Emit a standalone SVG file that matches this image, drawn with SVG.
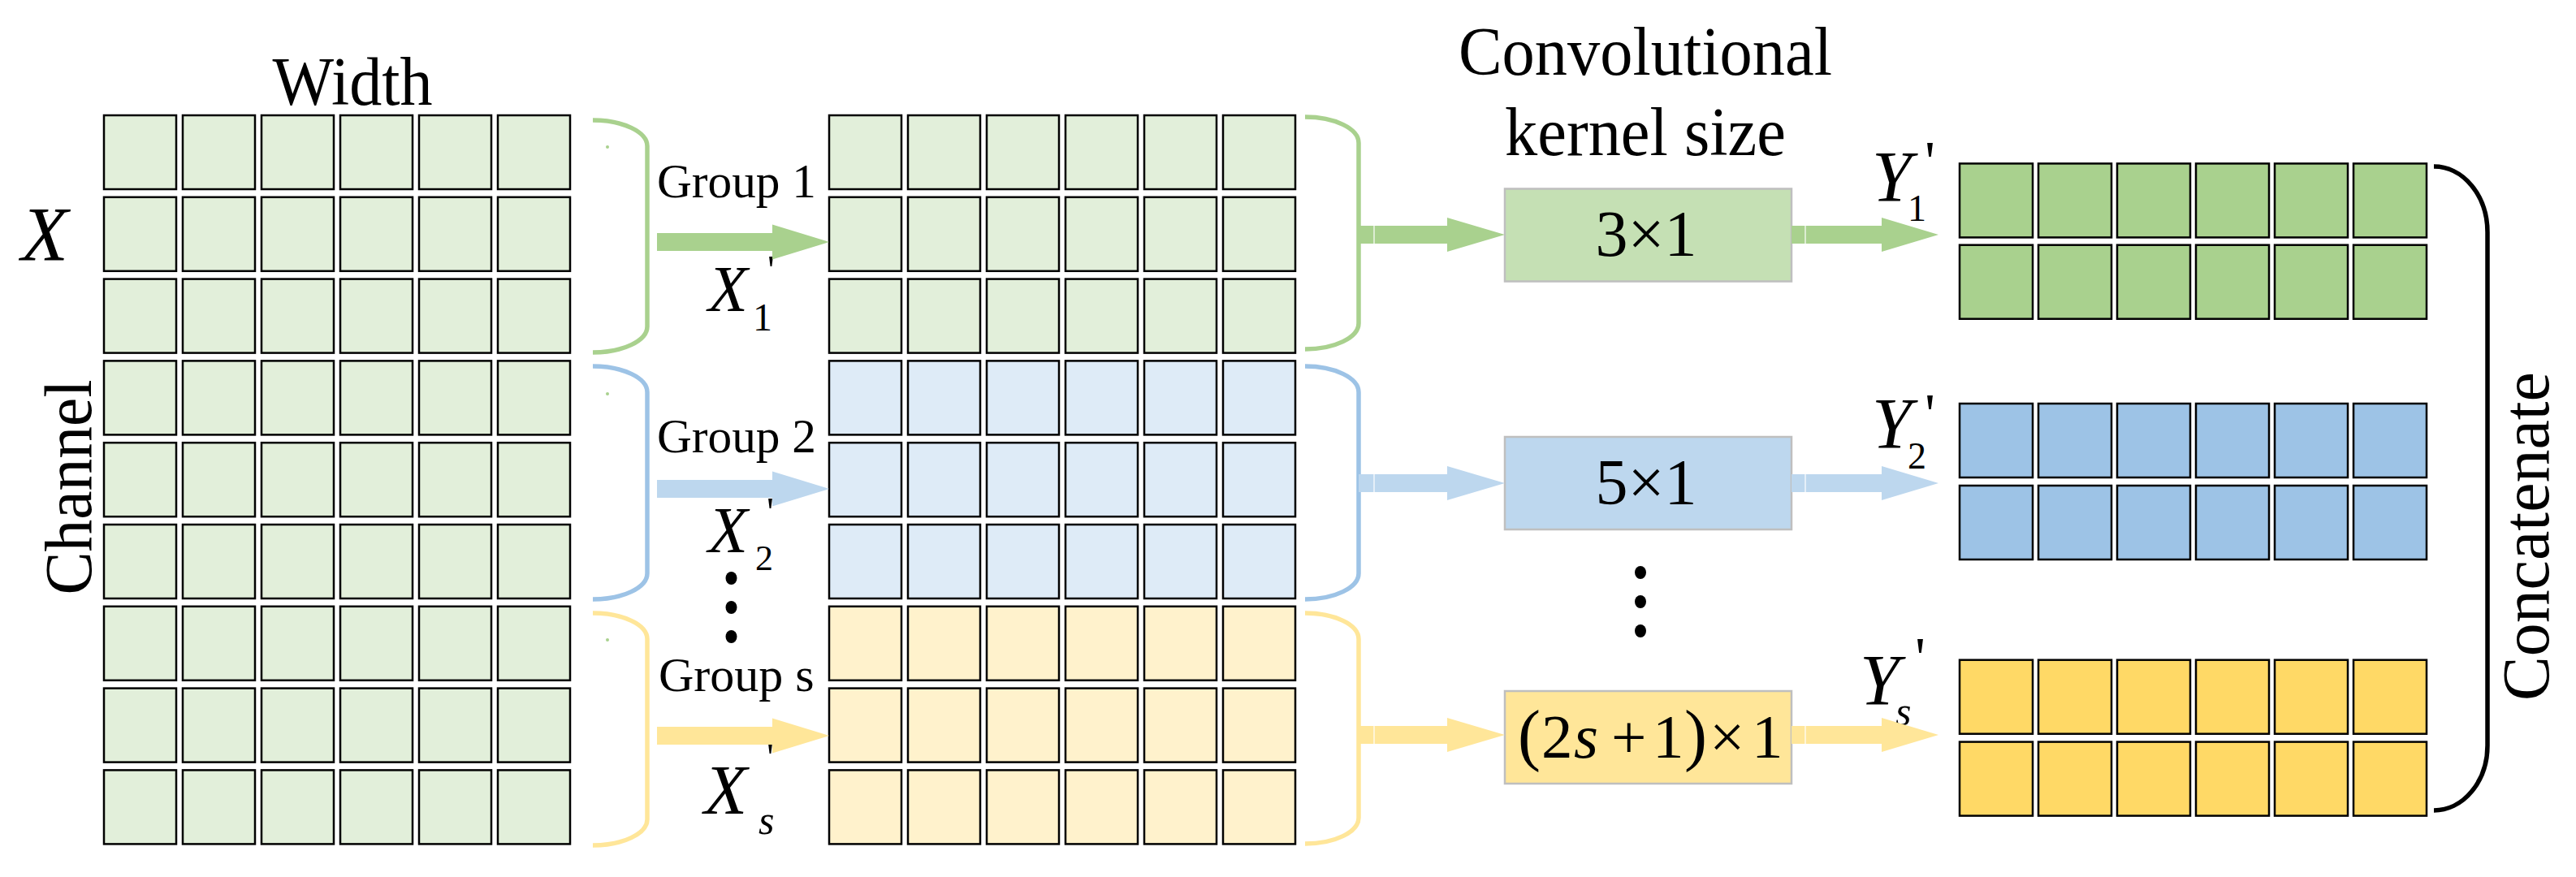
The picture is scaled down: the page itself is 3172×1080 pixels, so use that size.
<svg xmlns="http://www.w3.org/2000/svg" width="3172" height="1080" viewBox="0 0 3172 1080">
<style>
  text { font-family: "Liberation Serif", "Times New Roman", serif; fill: #000; }
  .it { font-style: italic; }
  .up { font-style: normal; }
  .cell { stroke: #000; stroke-width: 2.5; }
  .kbox { stroke: #bfbfbf; stroke-width: 2.5; }
  .br { fill: none; stroke-width: 5.5; }
  .dot { fill: #000; }
  .seam { stroke: #ffffff; stroke-width: 1.5; stroke-opacity: 0.8; }
</style>
<defs>
  <g id="row">
    <rect class="cell" x="0" y="0" width="89" height="91"/>
    <rect class="cell" x="97" y="0" width="89" height="91"/>
    <rect class="cell" x="194" y="0" width="89" height="91"/>
    <rect class="cell" x="291" y="0" width="89" height="91"/>
    <rect class="cell" x="388" y="0" width="89" height="91"/>
    <rect class="cell" x="485" y="0" width="89" height="91"/>
  </g>
  <g id="rowR">
    <rect class="cell" x="0" y="0" width="90" height="91"/>
    <rect class="cell" x="97" y="0" width="90" height="91"/>
    <rect class="cell" x="194" y="0" width="90" height="91"/>
    <rect class="cell" x="291" y="0" width="90" height="91"/>
    <rect class="cell" x="388" y="0" width="90" height="91"/>
    <rect class="cell" x="485" y="0" width="90" height="91"/>
  </g>
</defs>
<rect width="3172" height="1080" fill="#ffffff"/>

<g id="input-X">
  <text x="434" y="129" font-size="84" text-anchor="middle" textLength="197" lengthAdjust="spacingAndGlyphs">Width</text>
  <text transform="translate(112,600) rotate(-90)" font-size="83" text-anchor="middle" textLength="265" lengthAdjust="spacingAndGlyphs">Channel</text>
  <text class="it" x="26" y="321" font-size="95">X</text>
  <use href="#row" x="128" y="142" fill="#e2efda"/>
  <use href="#row" x="128" y="242.8" fill="#e2efda"/>
  <use href="#row" x="128" y="343.6" fill="#e2efda"/>
  <use href="#row" x="128" y="444.4" fill="#e2efda"/>
  <use href="#row" x="128" y="545.2" fill="#e2efda"/>
  <use href="#row" x="128" y="646" fill="#e2efda"/>
  <use href="#row" x="128" y="746.8" fill="#e2efda"/>
  <use href="#row" x="128" y="847.6" fill="#e2efda"/>
  <use href="#row" x="128" y="948.4" fill="#e2efda"/>
  <circle cx="748" cy="181" r="2" fill="#a9d18e"/>
  <circle cx="748" cy="485" r="2" fill="#a9d18e"/>
  <circle cx="748" cy="788" r="2" fill="#a9d18e"/>
</g>

<g id="split-brackets">
  <path class="br" stroke="#a9d18e" d="M730,148 A67,32 0 0 1 797,180 L797,402 A67,32 0 0 1 730,434"/>
  <path class="br" stroke="#9dc3e6" d="M730,451 A67,32 0 0 1 797,483 L797,706 A67,32 0 0 1 730,738"/>
  <path class="br" stroke="#ffe699" d="M730,755 A67,32 0 0 1 797,787 L797,1009 A67,32 0 0 1 730,1041"/>
</g>

<g id="group-labels">
  <text x="809" y="243" font-size="60" textLength="196" lengthAdjust="spacingAndGlyphs">Group 1</text>
  <text x="809" y="557" font-size="60" textLength="196" lengthAdjust="spacingAndGlyphs">Group 2</text>
  <text x="811" y="851" font-size="60">Group s</text>
  <text x="872" y="383" font-size="80"><tspan class="it">X</tspan><tspan class="up" x="945" y="349" font-size="50">'</tspan><tspan class="up" x="927" y="407" font-size="48">1</tspan></text>
  <text x="872" y="680" font-size="80"><tspan class="it">X</tspan><tspan class="up" x="944" y="647" font-size="50">'</tspan><tspan class="up" x="930" y="702" font-size="44">2</tspan></text>
  <text x="867" y="1002" font-size="87"><tspan class="it">X</tspan><tspan class="up" x="944" y="949" font-size="50">'</tspan><tspan class="it" x="934" y="1027" font-size="50">s</tspan></text>
  <ellipse class="dot" cx="900.5" cy="712" rx="7" ry="8"/>
  <ellipse class="dot" cx="900.5" cy="748" rx="7" ry="8"/>
  <ellipse class="dot" cx="900.5" cy="784" rx="7" ry="8"/>
</g>

<g id="groups-Xprime">
  <use href="#row" x="1021" y="142" fill="#e2efda"/>
  <use href="#row" x="1021" y="242.8" fill="#e2efda"/>
  <use href="#row" x="1021" y="343.6" fill="#e2efda"/>
  <use href="#row" x="1021" y="444.4" fill="#deebf7"/>
  <use href="#row" x="1021" y="545.2" fill="#deebf7"/>
  <use href="#row" x="1021" y="646" fill="#deebf7"/>
  <use href="#row" x="1021" y="746.8" fill="#fff2cc"/>
  <use href="#row" x="1021" y="847.6" fill="#fff2cc"/>
  <use href="#row" x="1021" y="948.4" fill="#fff2cc"/>
  <path class="br" stroke="#a9d18e" d="M1607,144 A66,32 0 0 1 1673,176 L1673,398 A66,32 0 0 1 1607,430"/>
  <path class="br" stroke="#9dc3e6" d="M1607,451 A66,32 0 0 1 1673,483 L1673,706 A66,32 0 0 1 1607,738"/>
  <path class="br" stroke="#ffe699" d="M1607,755 A66,32 0 0 1 1673,787 L1673,1007 A66,32 0 0 1 1607,1039"/>
</g>

<g id="kernel-title">
  <text x="2026" y="92" font-size="84" text-anchor="middle" textLength="460" lengthAdjust="spacingAndGlyphs">Convolutional</text>
  <text x="2026" y="191" font-size="84" text-anchor="middle" textLength="346" lengthAdjust="spacingAndGlyphs">kernel size</text>
</g>

<g id="kernel-3x1">
  <rect class="kbox" x="1853" y="232.5" width="353" height="114" fill="#c5e0b4"/>
  <text x="2027" y="315" font-size="80" text-anchor="middle">3×1</text>
</g>
<g id="kernel-5x1">
  <rect class="kbox" x="1853" y="538" width="353" height="114" fill="#bdd7ee"/>
  <text x="2027" y="621" font-size="80" text-anchor="middle">5×1</text>
</g>
<g id="kernel-dots">
  <ellipse class="dot" cx="2020" cy="705" rx="7" ry="8"/>
  <ellipse class="dot" cx="2020" cy="741" rx="7" ry="8"/>
  <ellipse class="dot" cx="2020" cy="777" rx="7" ry="8"/>
</g>
<g id="kernel-2s1">
  <rect class="kbox" x="1853" y="851" width="353" height="114" fill="#ffe699"/>
  <text y="933" font-size="77"><tspan x="1869" font-size="84">(</tspan><tspan x="1898">2</tspan><tspan x="1938" class="it">s</tspan><tspan x="1984">+</tspan><tspan x="2035">1</tspan><tspan x="2074" font-size="84">)</tspan><tspan x="2105">×</tspan><tspan x="2157">1</tspan></text>
</g>

<g id="out-Y1">
  <text x="2305" y="247" font-size="88"><tspan class="it">Y</tspan><tspan class="up" x="2370" y="223" font-size="72">'</tspan><tspan class="up" x="2349" y="272" font-size="46">1</tspan></text>
  <use href="#rowR" x="2413" y="201.4" fill="#a9d18e"/>
  <use href="#rowR" x="2413" y="301.7" fill="#a9d18e"/>
</g>
<g id="out-Y2">
  <text x="2305" y="551" font-size="88"><tspan class="it">Y</tspan><tspan class="up" x="2370" y="534" font-size="72">'</tspan><tspan class="up" x="2349" y="577" font-size="46">2</tspan></text>
  <use href="#rowR" x="2413" y="497" fill="#9dc3e6"/>
  <use href="#rowR" x="2413" y="598" fill="#9dc3e6"/>
</g>
<g id="out-Ys">
  <text x="2290" y="867" font-size="88"><tspan class="it">Y</tspan><tspan class="up" x="2358" y="834" font-size="72">'</tspan><tspan class="it" x="2334" y="893" font-size="50">s</tspan></text>
  <use href="#rowR" x="2413" y="812.7" fill="#ffd966"/>
  <use href="#rowR" x="2413" y="913.6" fill="#ffd966"/>
</g>

<g id="concatenate">
  <path class="br" stroke="#000" stroke-width="6" d="M2997,205 A66,81 0 0 1 3063,286 L3063,918 A66,80 0 0 1 2997,998"/>
  <text transform="translate(3138,660.5) rotate(-90)" font-size="83" text-anchor="middle" textLength="405" lengthAdjust="spacingAndGlyphs">Concatenate</text>
</g>

<g id="connectors">
  <polygon fill="#a9d18e" points="809,287 951,287 951,276.5 1021,298 951,319.5 951,309 809,309"/>
  <polygon fill="#bdd7ee" points="809,591 951,591 951,580.5 1021,602 951,623.5 951,613 809,613"/>
  <polygon fill="#ffe699" points="809,895 951,895 951,884.5 1021,906 951,927.5 951,917 809,917"/>

  <polygon fill="#a9d18e" points="1673,278 1782,278 1782,268 1853,289 1782,310 1782,300 1673,300"/>
  <polygon fill="#bdd7ee" points="1673,584 1782,584 1782,574 1853,595 1782,616 1782,606 1673,606"/>
  <polygon fill="#ffe699" points="1673,894 1782,894 1782,884 1853,905 1782,926 1782,916 1673,916"/>
  <line class="seam" x1="1692" y1="278" x2="1692" y2="300"/>
  <line class="seam" x1="1692" y1="584" x2="1692" y2="606"/>
  <line class="seam" x1="1692" y1="894" x2="1692" y2="916"/>

  <polygon fill="#a9d18e" points="2206,278 2317,278 2317,268 2387,289 2317,310 2317,300 2206,300"/>
  <polygon fill="#bdd7ee" points="2206,584 2317,584 2317,574 2387,595 2317,616 2317,606 2206,606"/>
  <polygon fill="#ffe699" points="2206,894 2317,894 2317,884 2387,905 2317,926 2317,916 2206,916"/>
  <line class="seam" x1="2223" y1="278" x2="2223" y2="300"/>
  <line class="seam" x1="2223" y1="584" x2="2223" y2="606"/>
  <line class="seam" x1="2223" y1="894" x2="2223" y2="916"/>
</g>
</svg>
